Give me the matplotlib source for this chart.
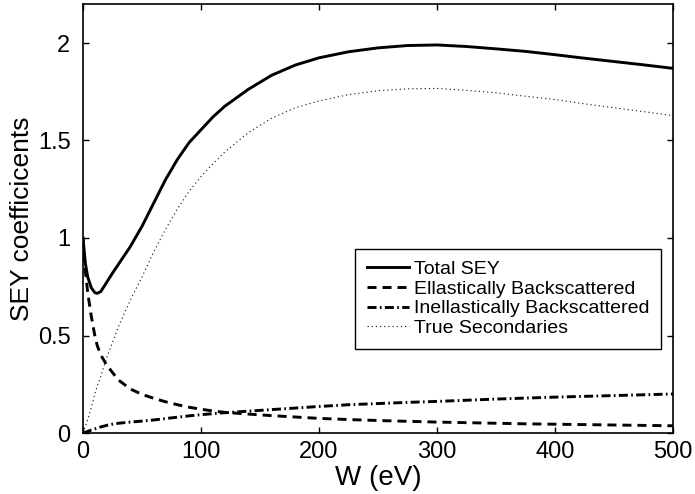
import matplotlib
matplotlib.use("Agg")
import matplotlib.pyplot as plt

# energia del electron primario (eV)
W = [0, 2, 4, 7, 10, 12, 15, 20, 25, 30, 40, 50, 60, 70, 80, 90, 100, 110, 120,
     140, 160, 180, 200, 225, 250, 275, 300, 325, 350, 375, 400, 425, 450, 475, 500]

total_sey = [1.0, 0.87, 0.80, 0.745, 0.72, 0.716, 0.725, 0.772, 0.82, 0.865, 0.955,
             1.06, 1.18, 1.30, 1.403, 1.49, 1.555, 1.62, 1.675, 1.762, 1.835, 1.887,
             1.924, 1.955, 1.975, 1.987, 1.99, 1.982, 1.97, 1.957, 1.94, 1.922,
             1.905, 1.888, 1.87]

elastic = [1.0, 0.83, 0.72, 0.60, 0.50, 0.45, 0.40, 0.35, 0.31, 0.272, 0.226, 0.198,
           0.178, 0.16, 0.145, 0.132, 0.122, 0.113, 0.106, 0.097, 0.089, 0.082,
           0.075, 0.069, 0.064, 0.06, 0.056, 0.053, 0.05, 0.047, 0.045, 0.043,
           0.041, 0.039, 0.037]

inelastic = [0.0, 0.004, 0.008, 0.015, 0.021, 0.025, 0.031, 0.039, 0.045, 0.05, 0.056,
             0.061, 0.067, 0.074, 0.081, 0.088, 0.094, 0.099, 0.104, 0.112, 0.12,
             0.128, 0.136, 0.145, 0.151, 0.157, 0.162, 0.168, 0.174, 0.179, 0.184,
             0.188, 0.192, 0.196, 0.20]

true_sec = [0.0, 0.035, 0.07, 0.13, 0.20, 0.24, 0.29, 0.385, 0.465, 0.545, 0.68, 0.80,
            0.93, 1.045, 1.15, 1.24, 1.315, 1.38, 1.44, 1.54, 1.615, 1.668, 1.703,
            1.735, 1.755, 1.765, 1.767, 1.757, 1.745, 1.727, 1.71, 1.688, 1.668,
            1.648, 1.628]

etiquetas = ["Total SEY", "Ellastically Backscattered",
             "Inellastically Backscattered", "True Secondaries"]

plt.rcParams['font.family'] = ['Liberation Sans', 'DejaVu Sans']
plt.rcParams['lines.scale_dashes'] = False

fig = plt.figure(figsize=(6.95, 4.94), dpi=100)
ax = fig.add_axes([83 / 695, 61 / 494, 590 / 695, 429 / 494])

ax.plot(W, total_sey, color='black', lw=2.1, label=etiquetas[0])
ax.plot(W, elastic, color='black', lw=2.1, dashes=(6.5, 4.3), label=etiquetas[1])
ax.plot(W, inelastic, color='black', lw=2.1, dashes=(6.5, 2.4, 1.2, 2.4), label=etiquetas[2])
ax.plot(W, true_sec, color='#222222', lw=0.8, dashes=(0.9, 2.1), label=etiquetas[3])

ax.set_xlim(0, 500)
ax.set_ylim(0, 2.2)
ax.set_xticks([0, 100, 200, 300, 400, 500])
ax.set_yticks([0, 0.5, 1, 1.5, 2])
ax.set_yticklabels(['0', '0.5', '1', '1.5', '2'])
ax.tick_params(direction='in', top=True, right=True, length=4, width=1,
               labelsize=17)
ax.tick_params(axis='x', pad=6)
ax.tick_params(axis='y', pad=9)
for sp in ax.spines.values():
    sp.set_linewidth(1.2)

ax.set_xlabel('W (eV)', fontsize=20, labelpad=1)
ax.set_ylabel('SEY coefficicents', fontsize=19, labelpad=3)

leg = ax.legend(loc='upper left', bbox_to_anchor=(0.461, 0.429), borderaxespad=0,
                fontsize=14, frameon=True, fancybox=False, framealpha=1,
                edgecolor='black', handlelength=2.2, handletextpad=0.25,
                labelspacing=0.1, borderpad=0.6)
leg.get_frame().set_linewidth(1.0)

plt.savefig('out.png', dpi=100)
plt.close()
